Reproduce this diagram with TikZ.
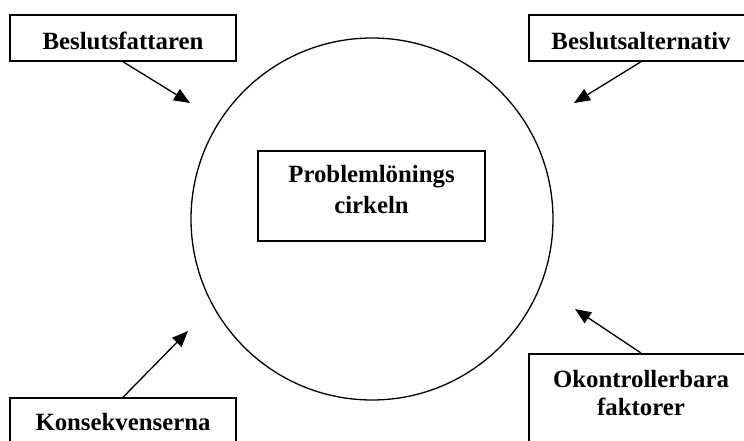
\documentclass[tikz,border=0pt]{standalone}
\usepackage{fontspec}
\setmainfont{Liberation Serif}
\usetikzlibrary{arrows.meta}
\begin{document}
\begin{tikzpicture}[x=1pt,y=-1pt,
  box/.style={draw, line width=1.5pt, rectangle, inner sep=0pt, minimum height=46pt},
  lbl/.style={font=\fontsize{24.8pt}{30pt}\selectfont\bfseries, inner sep=0pt},
  topbox/.style={box, lbl, text height=22pt, text depth=0pt},
  arr/.style={line width=1.3pt, -{Triangle[length=16pt,width=13pt]}}]
\useasboundingbox (0,0) rectangle (744,440);
\clip (0,0) rectangle (744,440);
% circle
\node[circle, draw, line width=1.3pt, minimum size=362pt, inner sep=0pt] (circ) at (372,219) {};
% corner boxes
\node[topbox, minimum width=226pt] (bf) at (123,38) {Beslutsfattaren};
\node[topbox, minimum width=224pt] (ba) at (641,38) {Beslutsalternativ};
\node[box, lbl, minimum width=226pt, text height=18pt, text depth=0pt] (ko) at (123,421) {Konsekvenserna};
\node[box, minimum width=224pt, minimum height=96pt, anchor=north] (ok) at (641,353) {};
\node[lbl, align=center, font=\fontsize{24.8pt}{28.5pt}\selectfont\bfseries] (oktxt) at (641,393) {Okontrollerbara\\faktorer};
% center box
\node[box, minimum width=227pt, minimum height=90pt] (pcbox) at (371.5,196) {};
\node[lbl, align=center, font=\fontsize{24.8pt}{31pt}\selectfont\bfseries] (pc) at (371.5,190) {Problemlönings\\cirkeln};
% arrow tips
\coordinate (t1) at (190,103);
\coordinate (t2) at (574,103);
\coordinate (t3) at (188,331);
\coordinate (t4) at (575,309);
\draw[arr] (bf.south) -- (t1);
\draw[arr] (ba.south) -- (t2);
\draw[arr] (ko.north) -- (t3);
\draw[arr] (ok.north) -- (t4);
\end{tikzpicture}
\end{document}
